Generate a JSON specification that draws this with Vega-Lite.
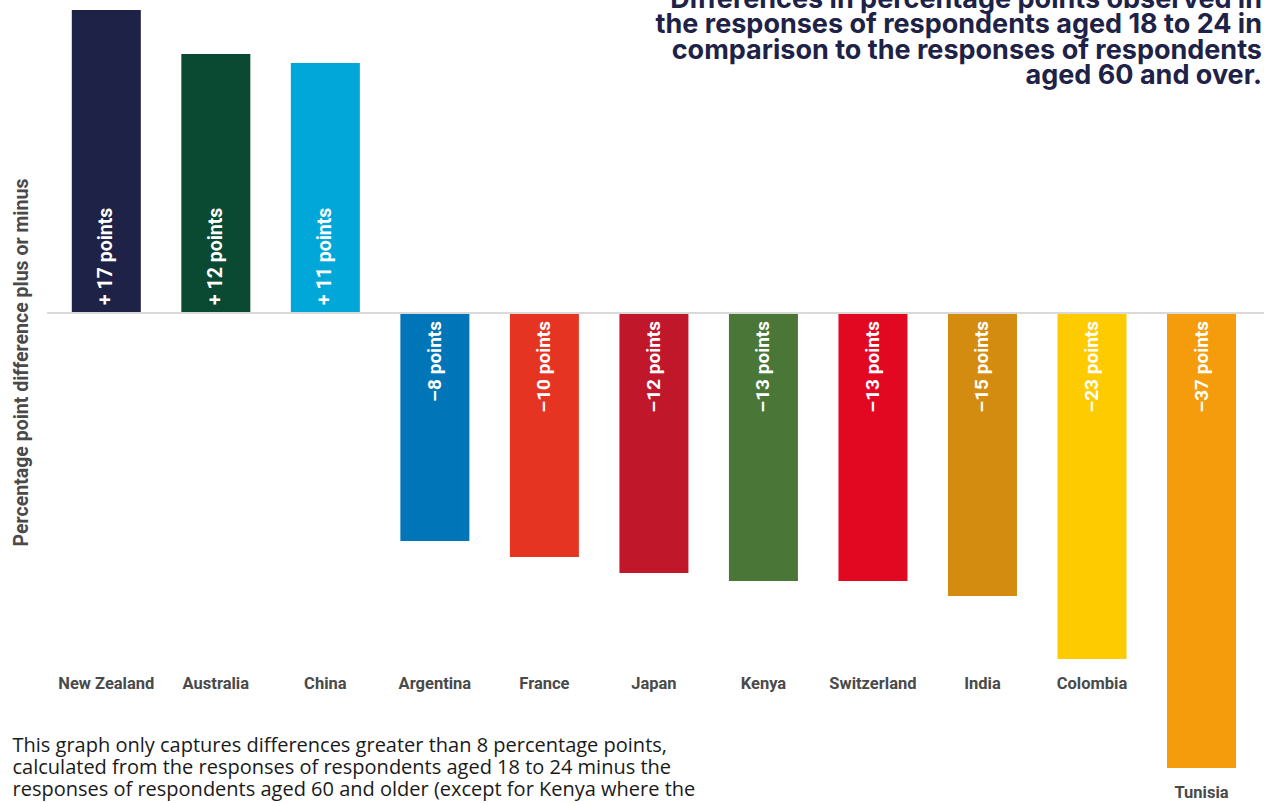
{
  "$schema": "https://vega.github.io/schema/vega-lite/v6.json",
  "width": 1217,
  "height": 803,
  "autosize": {"type": "none"},
  "padding": {"left": 47, "top": 0, "right": 0, "bottom": 0},
  "background": "white",
  "config": {"view": {"stroke": null}},
  "title": {
    "text": [
      "Differences in percentage points observed in",
      "the responses of respondents aged 18 to 24 in",
      "comparison to the responses of respondents",
      "aged 60 and over."
    ],
    "anchor": "end",
    "frame": "group",
    "orient": "top",
    "align": "right",
    "baseline": "alphabetic",
    "offset": -111,
    "dx": -2,
    "font": "Inter",
    "fontSize": 27,
    "fontWeight": "bold",
    "color": "#1e2247",
    "lineHeight": 25.5
  },
  "data": {
    "values": [
      {"country": "New Zealand", "points": 17, "label": "+ 17 points", "drawn_length": 303},
      {"country": "Australia", "points": 12, "label": "+ 12 points", "drawn_length": 259},
      {"country": "China", "points": 11, "label": "+ 11 points", "drawn_length": 250},
      {"country": "Argentina", "points": -8, "label": "–8 points", "drawn_length": -228},
      {"country": "France", "points": -10, "label": "–10 points", "drawn_length": -244},
      {"country": "Japan", "points": -12, "label": "–12 points", "drawn_length": -260},
      {"country": "Kenya", "points": -13, "label": "–13 points", "drawn_length": -268},
      {"country": "Switzerland", "points": -13, "label": "–13 points", "drawn_length": -268},
      {"country": "India", "points": -15, "label": "–15 points", "drawn_length": -283},
      {"country": "Colombia", "points": -23, "label": "–23 points", "drawn_length": -346},
      {"country": "Tunisia", "points": -37, "label": "–37 points", "drawn_length": -455}
    ]
  },
  "layer": [
    {
      "mark": {"type": "bar"},
      "encoding": {
        "x": {
          "field": "country", "type": "nominal", "sort": null,
          "scale": {"paddingInner": 0.37, "paddingOuter": 0.241, "align": 0.47},
          "axis": {
            "labels": false, "ticks": false, "domain": false, "grid": false,
            "title": [
              "This graph only captures differences greater than 8 percentage points,",
              "calculated from the responses of respondents aged 18 to 24 minus the",
              "responses of respondents aged 60 and older (except for Kenya where the"
            ],
            "titleAnchor": "start",
            "titleAlign": "left",
            "titleBaseline": "alphabetic",
            "titleX": -35,
            "titleY": -52,
            "titleLineHeight": 22,
            "titleFont": "Open Sans",
            "titleFontWeight": "normal",
            "titleFontSize": 20,
            "titleColor": "#1a1a1a"
          }
        },
        "y": {
          "field": "drawn_length", "type": "quantitative",
          "scale": {"domain": [-490, 313], "nice": false, "zero": false},
          "axis": {
            "labels": false, "ticks": false, "domain": false, "grid": false,
            "title": "Percentage point  difference plus or minus",
            "titleAngle": 270,
            "titleAlign": "center",
            "titleBaseline": "alphabetic",
            "titleX": -20,
            "titleY": 362,
            "titleFont": "Roboto",
            "titleFontWeight": "bold",
            "titleFontSize": 19.5,
            "titleColor": "#4a4a4a"
          }
        },
        "color": {
          "field": "country", "type": "nominal", "legend": null,
          "scale": {
            "domain": ["New Zealand", "Australia", "China", "Argentina", "France", "Japan", "Kenya", "Switzerland", "India", "Colombia", "Tunisia"],
            "range": ["#1e2247", "#0a4a33", "#00a7d8", "#0075b7", "#e63422", "#c1172a", "#4a7637", "#e30822", "#d38c0f", "#fecb00", "#f49c0b"]
          }
        }
      }
    },
    {
      "mark": {"type": "rule", "color": "#d9d9d9", "strokeWidth": 2},
      "encoding": {
        "y": {"datum": 0, "type": "quantitative"}
      }
    },
    {
      "transform": [{"filter": "datum.drawn_length > 0"}],
      "mark": {"type": "text", "angle": 270, "align": "left", "baseline": "middle", "dx": 8, "font": "Roboto", "fontWeight": "bold", "fontSize": 19.5, "color": "white"},
      "encoding": {
        "x": {"field": "country", "type": "nominal", "sort": null},
        "y": {"datum": 0, "type": "quantitative"},
        "text": {"field": "label"}
      }
    },
    {
      "transform": [{"filter": "datum.drawn_length < 0"}],
      "mark": {"type": "text", "angle": 270, "align": "right", "baseline": "middle", "dx": -8, "font": "Roboto", "fontWeight": "bold", "fontSize": 19, "color": "white"},
      "encoding": {
        "x": {"field": "country", "type": "nominal", "sort": null},
        "y": {"datum": 0, "type": "quantitative"},
        "text": {"field": "label"}
      }
    },
    {
      "transform": [{"filter": "datum.drawn_length >= -346"}],
      "mark": {"type": "text", "align": "center", "baseline": "middle", "dy": 25, "font": "Roboto", "fontWeight": "bold", "fontSize": 16.5, "color": "#4a4a4a"},
      "encoding": {
        "x": {"field": "country", "type": "nominal", "sort": null},
        "y": {"datum": -346, "type": "quantitative"},
        "text": {"field": "country"}
      }
    },
    {
      "transform": [{"filter": "datum.drawn_length < -346"}],
      "mark": {"type": "text", "align": "center", "baseline": "middle", "dy": 25, "font": "Roboto", "fontWeight": "bold", "fontSize": 16.5, "color": "#4a4a4a"},
      "encoding": {
        "x": {"field": "country", "type": "nominal", "sort": null},
        "y": {"field": "drawn_length", "type": "quantitative"},
        "text": {"field": "country"}
      }
    }
  ]
}
